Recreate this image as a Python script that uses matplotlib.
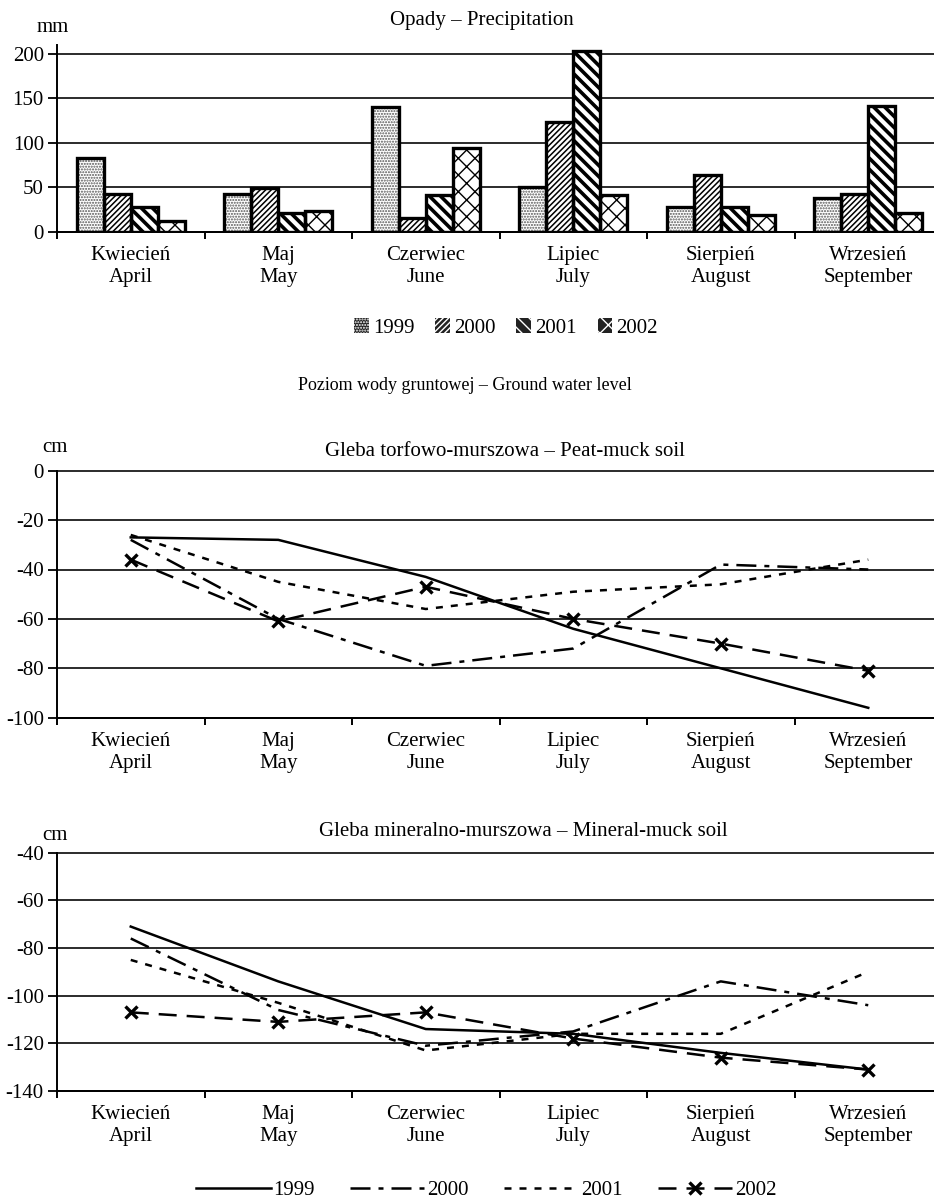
import matplotlib
matplotlib.use("Agg")
import matplotlib.pyplot as plt
from matplotlib.patches import Patch
import numpy as np

plt.rcParams['font.family'] = ['Liberation Serif', 'DejaVu Serif']
plt.rcParams['font.size'] = 15
plt.rcParams['axes.unicode_minus'] = False

months_pl = ['Kwiecień', 'Maj', 'Czerwiec', 'Lipiec', 'Sierpień', 'Wrzesień']
months_en = ['April', 'May', 'June', 'July', 'August', 'September']
years = ['1999', '2000', '2001', '2002']

# Opady - precipitation, mm
precip_1999 = [83, 43, 140, 51, 28, 38]
precip_2000 = [43, 49, 16, 123, 64, 43]
precip_2001 = [28, 21, 42, 203, 28, 142]
precip_2002 = [12, 24, 94, 42, 19, 21]

# ground water level, cm - peat-muck soil
peat_1999 = [-27, -28, -43, -64, -80, -96]
peat_2000 = [-28, -60, -79, -72, -38, -40]
peat_2001 = [-26, -45, -56, -49, -46, -36]
peat_2002 = [-36, -61, -47, -60, -70, -81]

# ground water level, cm - mineral-muck soil
mineral_1999 = [-71, -94, -114, -116, -124, -131]
mineral_2000 = [-76, -106, -121, -115, -94, -104]
mineral_2001 = [-85, -103, -123, -116, -116, -90]
mineral_2002 = [-107, -111, -107, -118, -126, -131]

W, H = 934, 1201
fig = plt.figure(figsize=(W / 100, H / 100), dpi=100)


def fx(px):
    return px / W


def fy(py):
    return 1 - py / H


def make_axes(top, bottom):
    ax = fig.add_axes([fx(57), fy(bottom), fx(885), (bottom - top) / H])
    for s in ['top', 'right']:
        ax.spines[s].set_visible(False)
    for s in ['left', 'bottom']:
        ax.spines[s].set_linewidth(1.4)
    ax.set_xlim(-0.5, 5.5)
    ax.set_xticks(np.arange(-0.5, 6, 1))
    ax.set_xticklabels([])
    ax.set_xticks(np.arange(6), minor=True)
    ax.set_xticklabels([f'{p}\n{e}' for p, e in zip(months_pl, months_en)], minor=True)
    ax.tick_params(axis='x', which='major', direction='out', length=5, width=1.4)
    ax.tick_params(axis='x', which='minor', length=0, pad=10)
    ax.tick_params(axis='y', direction='out', length=6.5, width=1.3, pad=3)
    for lab in ax.get_xticklabels(minor=True):
        lab.set_linespacing(1.25)
    ax.yaxis.grid(True, color='#1a1a1a', linewidth=1.3)
    ax.set_axisbelow(True)
    return ax


# --- precipitation bars ---
ax1 = make_axes(45, 232)
ax1.set_ylim(0, 210)
ax1.set_yticks([0, 50, 100, 150, 200])
x = np.arange(6)
bw = 0.183
series = [precip_1999, precip_2000, precip_2001, precip_2002]
hatches = ['......', '//////', '\\\\\\', 'xx']
hatch_cols = ['#555555', 'black', 'black', 'black']
hatch_lws = [1.0, 1.1, 2.6, 1.0]
for i, vals in enumerate(series):
    pos = x + (i - 1.5) * bw
    with plt.rc_context({'hatch.linewidth': hatch_lws[i]}):
        bars = ax1.bar(pos, vals, bw, color='white', edgecolor=hatch_cols[i],
                       hatch=hatches[i], linewidth=0, zorder=2)
    for b in bars:
        if hasattr(b, 'set_hatch_linewidth'):
            b.set_hatch_linewidth(hatch_lws[i])
    ax1.bar(pos, vals, bw, fill=False, edgecolor='black', linewidth=2.4, zorder=3)

for g in ax1.get_ygridlines():
    g.set_clip_on(False)

handles = []
for i, y in enumerate(years):
    with plt.rc_context({'hatch.linewidth': 1.6}):
        p = Patch(facecolor='#222222', edgecolor='white', hatch=hatches[i],
                  linewidth=0, label=y)
    if hasattr(p, 'set_hatch_linewidth'):
        p.set_hatch_linewidth(1.6)
    handles.append(p)
fig.legend(handles=handles, loc='center', bbox_to_anchor=(fx(506), fy(328)), ncol=4,
           frameon=False, handlelength=0.7, handleheight=0.7, handletextpad=0.2,
           columnspacing=1.0, fontsize=15)

fig.text(fx(482), fy(20), 'Opady – Precipitation', ha='center', va='center', fontsize=15)
fig.text(fx(53), fy(27), 'mm', ha='center', va='center', fontsize=15)
fig.text(fx(465), fy(385), 'Poziom wody gruntowej – Ground water level',
         ha='center', va='center', fontsize=13)

# --- ground water lines ---
lw = 1.8
styles = [
    dict(linestyle='-'),
    dict(linestyle=(0, (8.0, 3.2, 2.0, 3.2))),
    dict(linestyle=(0, (2.8, 3.2))),
    dict(linestyle=(0, (7.2, 4.0)), marker='x', markersize=8, markeredgewidth=2.4),
]


def draw_lines(ax, data):
    lines = []
    for vals, st, y in zip(data, styles, years):
        ln, = ax.plot(x, vals, color='black', linewidth=lw, label=y, zorder=3, **st)
        lines.append(ln)
    for g in ax.get_ygridlines():
        g.set_clip_on(False)
    return lines


ax2 = make_axes(470.7, 717.7)
ax2.set_ylim(-100, 0)
ax2.set_yticks(np.arange(-100, 1, 20))
draw_lines(ax2, [peat_1999, peat_2000, peat_2001, peat_2002])
fig.text(fx(505), fy(452), 'Gleba torfowo-murszowa – Peat-muck soil',
         ha='center', va='center', fontsize=15)
fig.text(fx(55), fy(448), 'cm', ha='center', va='center', fontsize=15)

ax3 = make_axes(852.7, 1091)
ax3.set_ylim(-140, -40)
ax3.set_yticks(np.arange(-140, -39, 20))
lines = draw_lines(ax3, [mineral_1999, mineral_2000, mineral_2001, mineral_2002])
fig.text(fx(523), fy(832), 'Gleba mineralno-murszowa – Mineral-muck soil',
         ha='center', va='center', fontsize=15)
fig.text(fx(55), fy(835), 'cm', ha='center', va='center', fontsize=15)

fig.legend(handles=lines, loc='center', bbox_to_anchor=(fx(486), fy(1190)), ncol=4,
           frameon=False, handlelength=3.6, handletextpad=0.1, columnspacing=1.7,
           fontsize=15)

fig.savefig('out.png', dpi=100)
